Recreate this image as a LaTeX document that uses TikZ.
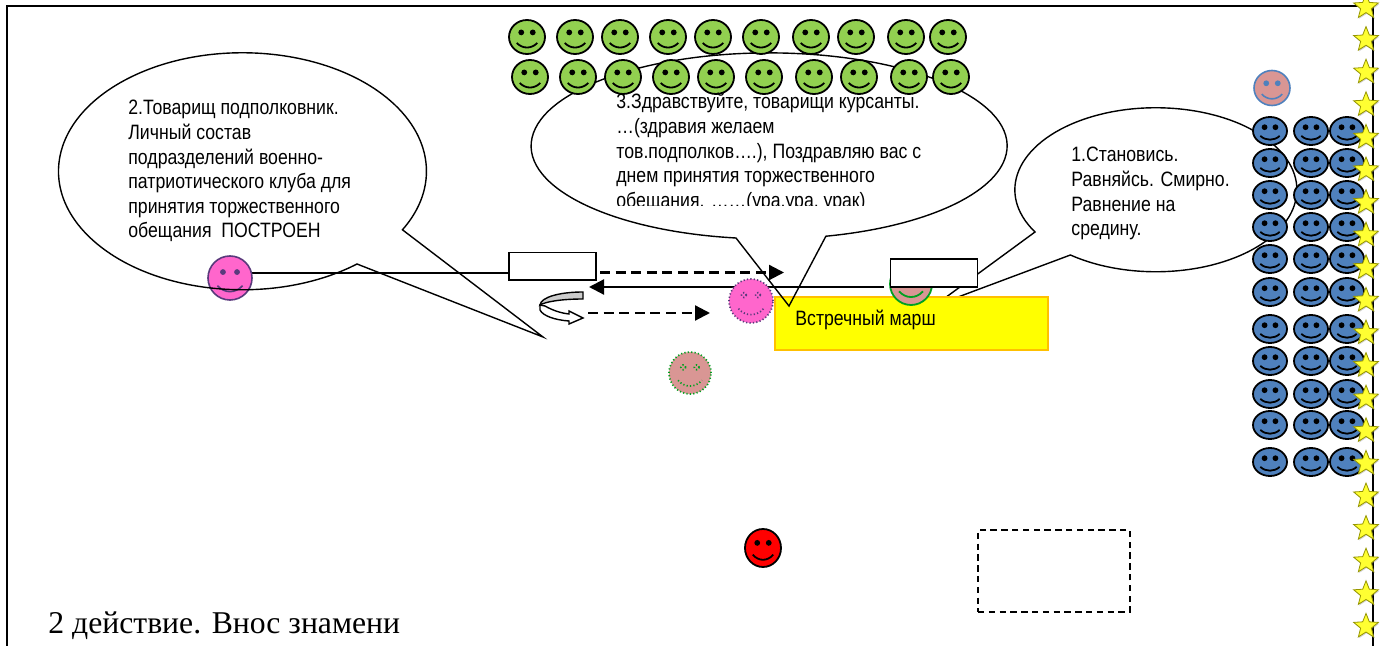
\documentclass[tikz,border=0pt]{standalone}
\usepackage{fontspec}
\setmainfont{Liberation Sans}
\newfontfamily\bubblefont[FakeStretch=0.85]{Liberation Sans}
\newfontfamily\titlefont{Liberation Serif}
\usetikzlibrary{shapes.geometric,arrows.meta,shadows}
\definecolor{grn}{HTML}{92D050}
\definecolor{blu}{HTML}{4F81BD}
\definecolor{pnk}{HTML}{FF66CC}
\definecolor{brn}{HTML}{D99694}
\definecolor{orng}{HTML}{FFC000}
\definecolor{dgrn}{HTML}{00A020}
\definecolor{ylw}{RGB}{255,255,0}
\definecolor{starfill}{RGB}{255,255,50}
\definecolor{staredge}{RGB}{150,150,0}
\definecolor{plum}{HTML}{5A3A7C}
\tikzset{
 outline/.style={draw=black,line width=0.7pt},
 bubbletext/.style={font=\bubblefont\fontsize{10.4}{12.3}\selectfont,align=left,anchor=north west,inner sep=0pt},
 solidline/.style={draw=black,line width=1.1pt},
 dashline/.style={draw=black,line width=1.1pt,dash pattern=on 5pt off 2.8pt},
 tip/.style={-{Triangle[length=7.5pt,width=7.5pt]}},
 whitebox/.style={draw=black,fill=white,line width=0.8pt,inner sep=0pt,minimum width=43.5pt,minimum height=13.8pt},
 dots/.style={line width=0.85pt,dash pattern=on 0.6pt off 1.1pt},
 starshape/.style={star,star points=5,star point ratio=2.3,draw=staredge,fill=starfill,line width=0.4pt,inner sep=0pt,minimum size=13pt,drop shadow={opacity=0.35,shadow xshift=0.4pt,shadow yshift=-0.6pt}},
}
% \face{name}{x}{y}{width}{height}{fill}{stroke}{line width}
\newcommand{\face}[8]{%
 \node[ellipse,inner sep=0pt,minimum width=#4*0.5pt,minimum height=#5*0.5pt,fill=#6,draw=#7,line width=#8] (#1) at (#2,#3) {};
 \begin{scope}[shift={(#2,#3)},x=#4*0.25pt,y=-#5*0.25pt]
  \fill[#7] (-0.32,-0.27) circle [radius=1.45pt];
  \fill[#7] (0.32,-0.27) circle [radius=1.45pt];
  \draw[#7,line width=#8] (-0.57,0.35) .. controls (-0.25,0.71) and (0.25,0.71) .. (0.57,0.35);
 \end{scope}}
% \dotface{name}{x}{y}{diameter}{fill}{stroke}
\newcommand{\dotface}[6]{%
 \node[ellipse,inner sep=0pt,minimum width=#4*0.5pt,minimum height=#4*0.5pt,fill=#5,draw=#6,dots] (#1) at (#2,#3) {};
 \begin{scope}[shift={(#2,#3)},x=#4*0.25pt,y=-#4*0.25pt]
  \draw[#6,dots] (-0.32,-0.27) circle [radius=1.2pt];
  \draw[#6,dots] (0.32,-0.27) circle [radius=1.2pt];
  \draw[#6,dots] (-0.57,0.35) .. controls (-0.25,0.71) and (0.25,0.71) .. (0.57,0.35);
 \end{scope}}
\begin{document}
\begin{tikzpicture}[x=0.5pt,y=-0.5pt]
\useasboundingbox (0,0) rectangle (1382,646);
% frame
\coordinate (fa) at (7,646); \coordinate (fb) at (7,6); \coordinate (fc) at (1373,6); \coordinate (fd) at (1373,646);
\draw[line width=0.8pt] (fa) -- (fb) -- (fc) -- (fd);
% bubble 1
\draw[outline,fill=white] (1035,232) arc[start angle=149,end angle=487.3,x radius=141,y radius=82] -- (934,306) -- cycle;
\node[bubbletext] (t1) at (1071,147) {1.Становись.\\Равняйсь. Смирно.\\Равнение на\\средину.};
% blue faces
\foreach \y [count=\i] in {131,163,195,227,259,292,329,361,394,425,462}{
 \face{ba\i}{1270}{\y}{34}{28}{blu}{black}{0.9pt}
 \face{bb\i}{1311}{\y}{34}{28}{blu}{black}{0.9pt}
 \face{bc\i}{1347}{\y}{34}{28}{blu}{black}{0.9pt}
}
\face{cmd}{1272}{88}{36}{35}{brn}{blu}{0.8pt}
% bubble 2
\path[fill=white] (357,264) arc[start angle=51.5,end angle=389.6,x radius=184,y radius=118.5] -- (543,337) -- cycle;
\coordinate (pl) at (230,272.7);
\node[whitebox] (r1) at (552.5,266.5) {};
\draw[solidline] (pl) -- (r1.west |- pl);
\face{pink}{230}{278}{44}{44}{pnk}{plum}{0.8pt}
\draw[outline] (357,264) arc[start angle=51.5,end angle=389.6,x radius=184,y radius=118.5] -- (543,337) -- cycle;
\node[bubbletext] (t2) at (128,100) {2.Товарищ подполковник.\\Личный состав\\подразделений военно-\\патриотического клуба для\\принятия торжественного\\обещания~ ПОСТРОЕН};
% yellow
\node[draw=orng,fill=ylw,line width=0.8pt,inner sep=0pt,minimum width=136.5pt,minimum height=26.5pt] (yel) at (911.5,323.5) {};
\node[inner sep=0pt,anchor=base west,font=\bubblefont\fontsize{10.4}{12}\selectfont] (ytext) at (795,326) {Встречный марш};
% officer face under the box
\face{green}{911}{284}{42}{42}{brn}{dgrn}{0.9pt}
% bubble 3
\path[fill=white] (769,146) ellipse [x radius=238,y radius=93];
\draw[outline] (736,238) arc[start angle=98,end angle=436.2,x radius=238,y radius=93] -- (789,306) -- cycle;
% green rows
\foreach \x [count=\i] in {527,575,620,668,713,761,811,856,906,948}
 {\face{ga\i}{\x}{37}{36}{34}{grn}{black}{0.9pt}}
\foreach \x [count=\i] in {530,578,623,671,716,764,814,859,909,951}
 {\face{gb\i}{\x}{77}{36}{34}{grn}{black}{0.9pt}}
\begin{scope}
 \clip (600,88) rectangle (930,206);
 \node[bubbletext] (t3) at (616,93) {3.Здравствуйте, товарищи курсанты.\\…(здравия желаем\\тов.подполков….), Поздравляю вас с\\днем принятия торжественного\\обещания. ……(ура,ура, урак)};
\end{scope}
% boxes, arrows
\node[whitebox] (r2) at (934,273) {};
\coordinate (sa) at (884,287); \coordinate (sb) at (589,287);
\draw[solidline,tip] (sa) -- (sb);
\coordinate (da) at (600,272.5); \coordinate (db) at (784,272.5);
\draw[dashline,tip] (da) -- (db);
\coordinate (dc) at (588,313); \coordinate (dd) at (710,313);
\draw[dashline,tip] (dc) -- (dd);
\dotface{mag}{751}{301}{44}{pnk}{plum}
\dotface{br2}{690}{373}{42}{brn}{dgrn}
% turn arrow
\draw[outline,fill=white] (545,306) .. controls (552,310) and (560,313) .. (569,314) -- (569,311) -- (583,318) -- (569,324) -- (569,321) .. controls (555,320) and (543,316) .. (540,310) -- (540,305) -- cycle;
\draw[outline,fill=black!20] (583,292) .. controls (560,292) and (541,297) .. (540,305) .. controls (545,302) and (560,299) .. (583,299) -- cycle;
% red face
\face{red}{763}{548}{36}{38}{red}{black}{0.9pt}
% dashed box
\node[draw=black,dash pattern=on 3.2pt off 2.2pt,line width=0.6pt,inner sep=0pt,minimum width=76pt,minimum height=41pt] (dbox) at (1054,571) {};
% title
\node[inner sep=0pt,anchor=base west,font=\titlefont\fontsize{15.85}{18}\selectfont] (title) at (48,633.5) {2 действие. Внос знамени};
% stars
\foreach \i in {0,...,19}{
 \pgfmathsetmacro{\yy}{7+32.6*\i}
 \node[starshape] (s\i) at (1366,\yy) {};
}
\end{tikzpicture}
\end{document}
